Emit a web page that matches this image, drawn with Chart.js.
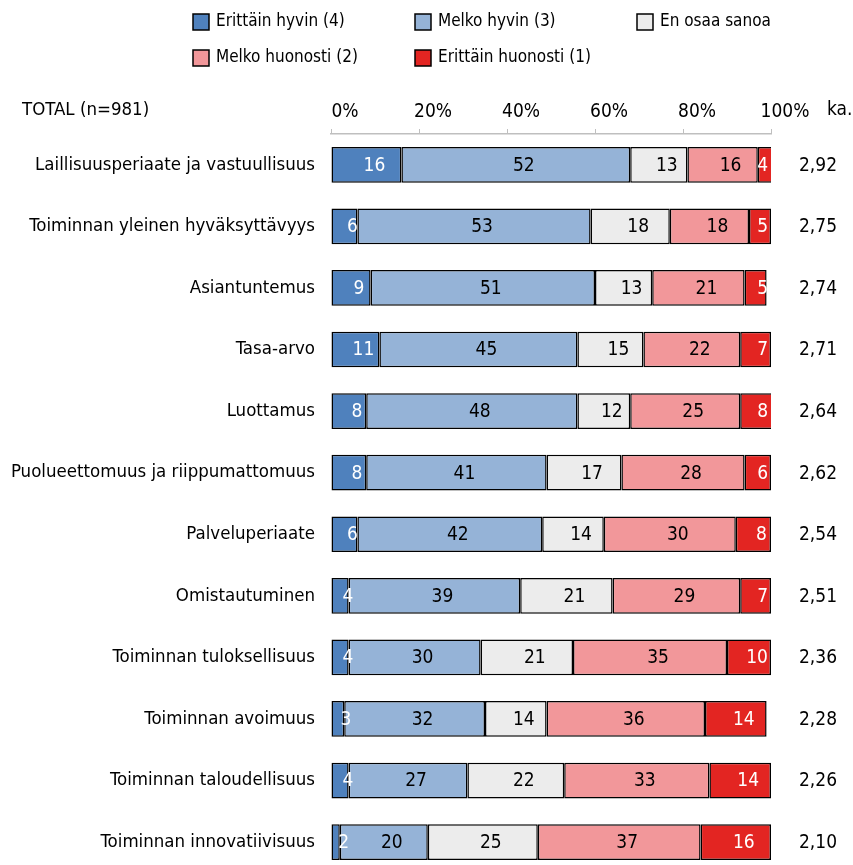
<!DOCTYPE html>
<html>
<head>
<meta charset="utf-8">
<script src="https://cdn.jsdelivr.net/npm/chart.js@4.4.1/dist/chart.umd.min.js"></script>
<style>
  html, body { margin: 0; padding: 0; background: #fff; overflow: hidden; }
  #wrap { width: 853px; height: 900px; position: relative; }
</style>
</head>
<body>
<div id="wrap"><canvas id="bar-chart-area"></canvas></div>
<script>
var FONT = "'DejaVu Sans Condensed', 'Liberation Sans Narrow', sans-serif";

var arrLabel = [
  "Laillisuusperiaate ja vastuullisuus",
  "Toiminnan yleinen hyväksyttävyys",
  "Asiantuntemus",
  "Tasa-arvo",
  "Luottamus",
  "Puolueettomuus ja riippumattomuus",
  "Palveluperiaate",
  "Omistautuminen",
  "Toiminnan tuloksellisuus",
  "Toiminnan avoimuus",
  "Toiminnan taloudellisuus",
  "Toiminnan innovatiivisuus"
];
var arrVeryWell  = [16, 6, 9, 11, 8, 8, 6, 4, 4, 3, 4, 2];
var arrFairlyWell = [52, 53, 51, 45, 48, 41, 42, 39, 30, 32, 27, 20];
var arrDontKnow  = [13, 18, 13, 15, 12, 17, 14, 21, 21, 14, 22, 25];
var arrFairlyBad = [16, 18, 21, 22, 25, 28, 30, 29, 35, 36, 33, 37];
var arrVeryBad   = [4, 5, 5, 7, 8, 6, 8, 7, 10, 14, 14, 16];
var arrMean = ["2,92", "2,75", "2,74", "2,71", "2,64", "2,62", "2,54", "2,51", "2,36", "2,28", "2,26", "2,10"];
var arrTicks = [0, 20, 40, 60, 80, 100];
var totalLabel = "TOTAL (n=981)";
var meanHeader = "ka.";

var seriesNames = ["Erittäin hyvin (4)", "Melko hyvin (3)", "En osaa sanoa", "Melko huonosti (2)", "Erittäin huonosti (1)"];
var seriesColors = ["#4f81bd", "#95b3d7", "#ececec", "#f2979a", "#e32522"];
var labelColors = ["#fff", "#000", "#000", "#000", "#fff"];

// legend, header texts, segment values and the mean column
var extrasPlugin = {
  id: 'extras',
  afterDraw: function (chart) {
    var ctx = chart.ctx;
    var area = chart.chartArea;
    ctx.save();
    // legend (3 columns)
    ctx.font = "17px " + FONT;
    ctx.textBaseline = 'middle';
    ctx.textAlign = 'left';
    var colX = [193, 415, 637];
    var rowY = [22, 58];
    for (var i = 0; i < seriesNames.length; i++) {
      var bx = colX[i % 3], by = rowY[Math.floor(i / 3)];
      ctx.fillStyle = seriesColors[i];
      ctx.fillRect(bx, by - 8, 16, 16);
      ctx.strokeStyle = '#000';
      ctx.lineWidth = 1.5;
      ctx.strokeRect(bx, by - 8, 16, 16);
      ctx.fillStyle = '#000';
      ctx.fillText(seriesNames[i], bx + 23, by);
    }
    // header texts
    ctx.font = "18.5px " + FONT;
    ctx.fillText(totalLabel, 22, 110);
    ctx.font = "19px " + FONT;
    ctx.fillText(meanHeader, 827, 110);

    // segment labels
    ctx.textAlign = 'center';
    chart.data.datasets.forEach(function (ds, di) {
      var meta = chart.getDatasetMeta(di);
      meta.data.forEach(function (bar, j) {
        var cx = (bar.x + bar.base) / 2 + 8;
        var tw = ctx.measureText(String(ds.data[j])).width;
        if (cx + tw / 2 > area.right - 3) cx = area.right - 3 - tw / 2;
        ctx.fillStyle = labelColors[di];
        ctx.fillText(String(ds.data[j]), cx, bar.y + 1);
      });
    });

    // mean column
    ctx.fillStyle = '#000';
    var meta0 = chart.getDatasetMeta(0);
    meta0.data.forEach(function (bar, j) {
      ctx.fillText(arrMean[j], 818, bar.y + 1);
    });
    ctx.restore();
  }
};

var datasets = [arrVeryWell, arrFairlyWell, arrDontKnow, arrFairlyBad, arrVeryBad].map(function (d, i) {
  return {
    label: seriesNames[i],
    data: d,
    backgroundColor: seriesColors[i],
    borderColor: '#000',
    borderWidth: 1.5,
    borderSkipped: false,
    categoryPercentage: 1,
    barPercentage: 0.58
  };
});

var configBar = {
  type: 'bar',
  data: {
    labels: arrLabel,
    datasets: datasets
  },
  options: {
    indexAxis: 'y',
    responsive: true,
    maintainAspectRatio: false,
    animation: false,
    layout: {
      padding: { top: 85, right: 82, bottom: 18, left: 0 }
    },
    plugins: {
      legend: { display: false },
      title: { display: false },
      tooltip: { enabled: false }
    },
    scales: {
      x: {
        position: 'top',
        stacked: true,
        min: 0,
        max: 100,
        afterBuildTicks: function (scale) {
          scale.ticks = arrTicks.map(function (v) { return { value: v }; });
        },
        afterFit: function (scale) { scale.height = 49; },
        ticks: {
          color: '#000',
          font: { family: FONT, size: 19 },
          padding: 6,
          labelOffset: 14,
          maxRotation: 0,
          callback: function (v) { return v + '%'; }
        },
        grid: {
          drawOnChartArea: false,
          drawTicks: true,
          tickLength: 5,
          color: '#bfbfbf'
        },
        border: { display: true, color: '#bfbfbf', width: 1.5 }
      },
      y: {
        stacked: true,
        afterFit: function (scale) { scale.width = 331; },
        ticks: {
          color: '#000',
          font: { family: FONT, size: 18.5 },
          padding: 16
        },
        grid: { display: false, drawTicks: false },
        border: { display: false }
      }
    }
  },
  plugins: [extrasPlugin]
};

var myChartBar = document.getElementById("bar-chart-area").getContext("2d");
var myBar = new Chart(myChartBar, configBar);
</script>
</body>
</html>
